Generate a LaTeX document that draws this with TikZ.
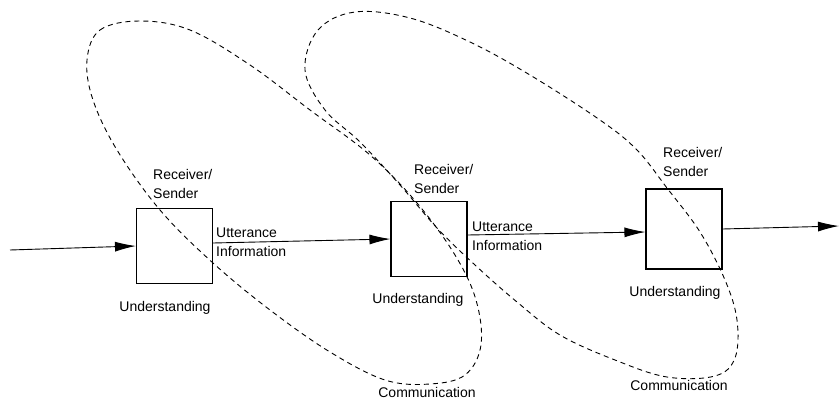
\documentclass[tikz,border=0pt]{standalone}
\usepackage{fontspec}
\setmainfont{Liberation Sans}
\usetikzlibrary{arrows.meta}

\begin{document}
\begin{tikzpicture}[x=1pt,y=1pt,
  agent/.style={draw, line width=1.1pt, minimum width=76pt, minimum height=75pt, inner sep=0pt},
  flow/.style={line width=0.9pt, -{Latex[length=21pt,width=10pt]}},
  loopline/.style={line width=0.9pt, dash pattern=on 5pt off 4pt},
  lbl/.style={inner sep=0pt, font=\fontsize{14}{19}\selectfont},
  duo/.style={lbl, align=left, anchor=west}
]
\useasboundingbox (0,0) rectangle (839,400);

% the three receiver/sender stations
\node[agent] (box1) at (174.5,154) {};
\node[agent] (box2) at (429,161) {};
\node[agent, minimum height=80pt] (box3) at (684,171) {};

% free ends of the chain
\coordinate (src) at (10,150);
\coordinate (sink) at (839,174);

% message flow
\draw[flow] (src) -- (box1.west);
\draw[flow] ([yshift=3pt]box1.east) -- (box2.west);
\draw[flow] ([yshift=4pt]box2.east) -- ([yshift=-3pt]box3.west);
\draw[flow] (box3.east) -- (sink);

% first communication loop
\draw[loopline] plot[smooth cycle, tension=0.6] coordinates {
  (87,340) (100,370) (140,379) (190,370) (250,335) (310,290) (370,245)
  (417,197) (455,145) (476,100) (481,55) (465,25) (430,16) (385,20)
  (330,48) (270,90) (213,137) (160,190) (117,250) (93,300)};

% second communication loop
\draw[loopline] plot[smooth cycle, tension=0.6] coordinates {
  (305,330) (318,370) (355,388) (410,382) (470,358) (530,325) (600,280)
  (637,250) (667,212) (700,168) (725,120) (737,80) (735,42) (715,24)
  (667,23) (615,40) (560,65) (517,98) (475,135) (437,172) (400,215)
  (360,258) (325,290)};

% station labels
\node[duo] (rs1) at (153,216) {Receiver/\\Sender};
\node[duo] (rs2) at (414,221) {Receiver/\\Sender};
\node[duo] (rs3) at (663,238.5) {Receiver/\\Sender};

% message labels
\node[duo] (ui1) at (216,157.5) {Utterance\\Information};
\node[duo] (ui2) at (472,164) {Utterance\\Information};

% understanding labels
\node[lbl] (un1) at (165,92) {Understanding};
\node[lbl] (un2) at (418,100) {Understanding};
\node[lbl] (un3) at (675,107) {Understanding};

% loop labels
\node[lbl] (cm1) at (427,8) {Communication};
\node[lbl] (cm2) at (679,15) {Communication};
\end{tikzpicture}
\end{document}
